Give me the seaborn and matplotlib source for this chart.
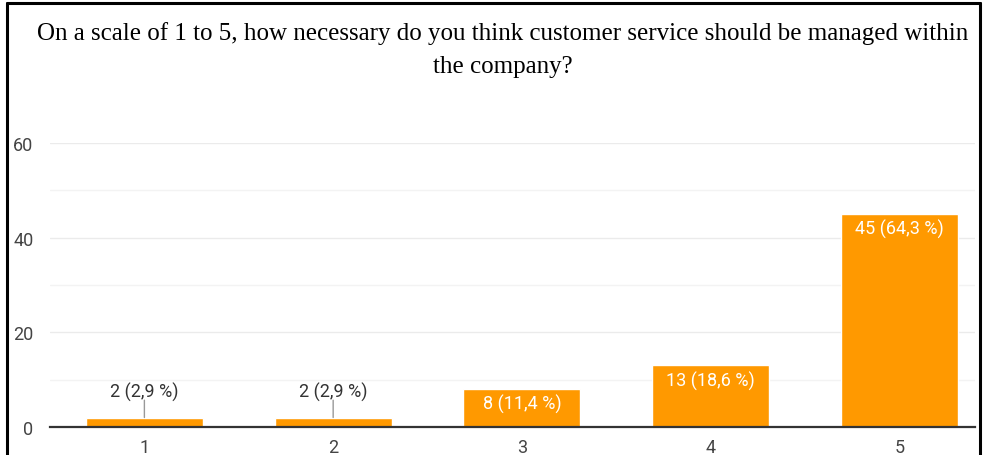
import matplotlib
matplotlib.use("Agg")
import matplotlib.pyplot as plt
from matplotlib.lines import Line2D
import seaborn as sns
import pandas as pd

categories = ["1", "2", "3", "4", "5"]
counts = [2, 2, 8, 13, 45]
bar_labels = ["2 (2,9 %)", "2 (2,9 %)", "8 (11,4 %)", "13 (18,6 %)", "45 (64,3 %)"]
y_ticks = [0, 20, 40, 60]
title = "On a scale of 1 to 5, how necessary do you think customer service should be managed within\nthe company?"

sns.set_theme(style="white")
plt.rcParams["font.family"] = ["Roboto", "DejaVu Sans"]

fig = plt.figure(figsize=(9.83, 4.56), dpi=100)
ax = fig.add_axes([50 / 983, 28 / 456, 925 / 983, (428 - 144) / 456])

df = pd.DataFrame({"cat": categories, "count": counts})
sns.barplot(data=df, x="cat", y="count", color="#FF9900", saturation=1,
            width=0.62, ax=ax, zorder=3)

ax.set_ylim(0, 60)
ax.set_xlim(-0.5, 4.4)
ax.set_yticks(y_ticks)
ax.set_yticks([10, 30, 50], minor=True)
ax.grid(axis="y", which="major", color="#ebebeb", linewidth=1, zorder=0)
ax.grid(axis="y", which="minor", color="#f3f3f3", linewidth=1, zorder=0)
ax.set_axisbelow(True)
for s in ["top", "right", "left"]:
    ax.spines[s].set_visible(False)
ax.spines["bottom"].set_color("#333333")
ax.spines["bottom"].set_linewidth(1.6)
ax.spines["bottom"].set_zorder(5)
ax.set_xlabel("")
ax.set_ylabel("")
ax.tick_params(axis="y", which="both", length=0, pad=12, labelsize=13, labelcolor="#444444")
ax.tick_params(axis="x", length=0, pad=8, labelsize=13, labelcolor="#444444")

for i, (v, lab) in enumerate(zip(counts, bar_labels)):
    if v < 5:
        ax.annotate(lab, xy=(i, v), xytext=(0, 18.5), textcoords="offset points",
                    ha="center", va="center", fontsize=13, color="#333333", zorder=6)
        ax.annotate("", xy=(i, v), xytext=(0, 12.5), textcoords="offset points",
                    arrowprops=dict(arrowstyle="-", color="#999999", lw=1,
                                    shrinkA=0, shrinkB=0), zorder=6)
    else:
        ax.annotate(lab, xy=(i, v), xytext=(0, -10.5), textcoords="offset points",
                    ha="center", va="center", fontsize=13, color="white", zorder=6)

fig.text(503 / 983, 1 - 50 / 456, title, ha="center", va="center",
         family="Liberation Serif", fontsize=18, color="black", linespacing=1.65)

# outer frame (left, top, right)
W, H = 983, 456
lw = 2.2
fig.add_artist(Line2D([6.5 / W, 6.5 / W], [0, 1 - 3.5 / H], transform=fig.transFigure, color="black", lw=lw))
fig.add_artist(Line2D([6.5 / W, 980 / W], [1 - 3.5 / H, 1 - 3.5 / H], transform=fig.transFigure, color="black", lw=lw))
fig.add_artist(Line2D([980 / W, 980 / W], [0, 1 - 3.5 / H], transform=fig.transFigure, color="black", lw=lw))

fig.savefig("out.png", dpi=100, facecolor="white")
